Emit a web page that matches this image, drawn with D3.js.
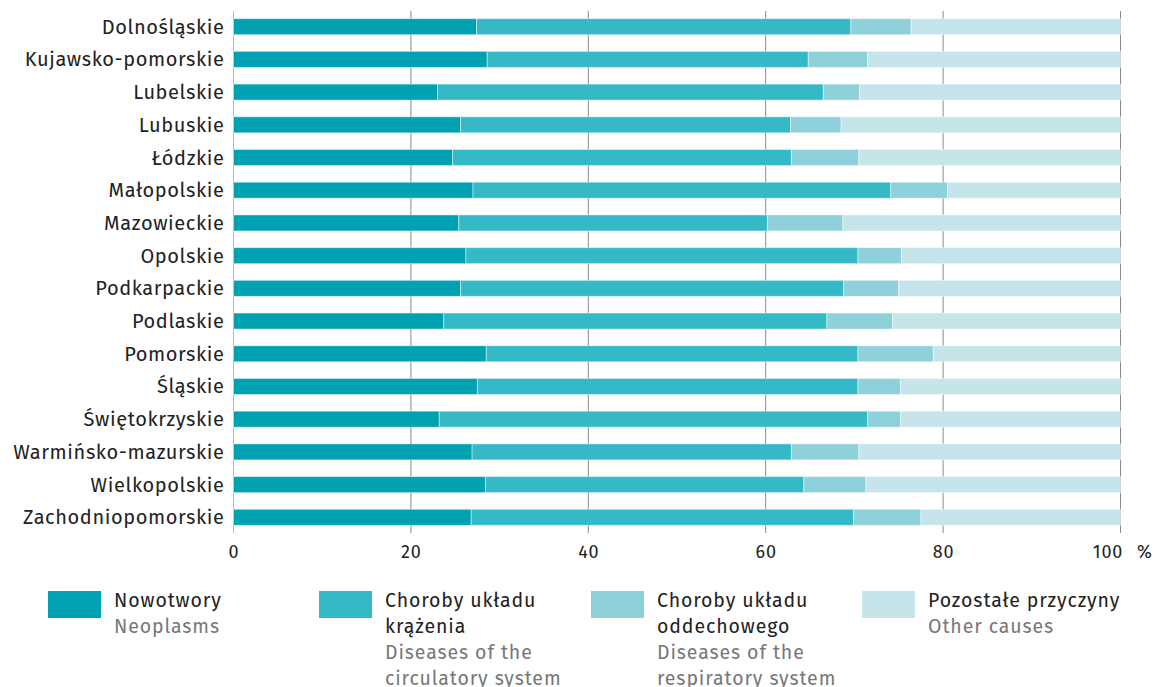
<!DOCTYPE html>
<html>
<head>
<meta charset="utf-8">
<script src="https://cdn.jsdelivr.net/npm/d3@7"></script>
<style>
  body { margin: 0; background: #fff; }
  svg text { font-family: "Fira Sans", "Noto Sans", sans-serif; }
</style>
</head>
<body>
<svg id="chart" width="1158" height="687"></svg>
<script>
// regions (voivodeships)
const regions = [
  'Dolnośląskie', 'Kujawsko-pomorskie', 'Lubelskie', 'Lubuskie', 'Łódzkie',
  'Małopolskie', 'Mazowieckie', 'Opolskie', 'Podkarpackie', 'Podlaskie',
  'Pomorskie', 'Śląskie', 'Świętokrzyskie', 'Warmińsko-mazurskie',
  'Wielkopolskie', 'Zachodniopomorskie'
];

// shares of deaths, %
const neoplasms   = [27.4, 28.6, 23.0, 25.6, 24.7, 27.0, 25.4, 26.2, 25.6, 23.7, 28.5, 27.5, 23.2, 26.9, 28.4, 26.8];
const circulatory = [42.2, 36.2, 43.5, 37.2, 38.2, 47.1, 34.8, 44.2, 43.2, 43.2, 41.9, 42.9, 48.3, 36.0, 35.9, 43.1];
const respiratory = [6.8, 6.7, 4.1, 5.7, 7.6, 6.4, 8.5, 4.9, 6.2, 7.4, 8.5, 4.8, 3.7, 7.6, 7.0, 7.6];
const other = regions.map((r, i) => +(100 - neoplasms[i] - circulatory[i] - respiratory[i]).toFixed(1));

const xTicks = [0, 20, 40, 60, 80, 100];

const series = [
  { key: 'neo', pl: ['Nowotwory'], en: ['Neoplasms'], color: '#00a1b1' },
  { key: 'circ', pl: ['Choroby układu', 'krążenia'], en: ['Diseases of the', 'circulatory system'], color: '#36b9c7' },
  { key: 'resp', pl: ['Choroby układu', 'oddechowego'], en: ['Diseases of the', 'respiratory system'], color: '#8fd1da' },
  { key: 'oth', pl: ['Pozostałe przyczyny'], en: ['Other causes'], color: '#c5e5ea' }
];

const rows = regions.map((r, i) => ({
  region: r, neo: neoplasms[i], circ: circulatory[i], resp: respiratory[i], oth: other[i]
}));

const svg = d3.select('#chart');

const x = d3.scaleLinear().domain([0, 100]).range([233.5, 1120.5]);
const y = d3.scaleBand().domain(regions).range([10.5, 533.5]).paddingInner(0.51).paddingOuter(0.25);

// grid
svg.append('g')
  .selectAll('line')
  .data(xTicks)
  .join('line')
  .attr('x1', d => x(d)).attr('x2', d => x(d))
  .attr('y1', 11).attr('y2', 533)
  .attr('stroke', d => d === 0 ? '#bbbbbb' : '#8a8a8a')
  .attr('stroke-width', 1);

// stacked bars
const stacked = d3.stack().keys(series.map(s => s.key))(rows);

svg.append('g')
  .selectAll('g')
  .data(stacked)
  .join('g')
  .attr('fill', (d, i) => series[i].color)
  .selectAll('rect')
  .data(d => d)
  .join('rect')
  .attr('x', d => x(d[0]))
  .attr('width', d => x(d[1]) - x(d[0]))
  .attr('y', d => y(d.data.region))
  .attr('height', y.bandwidth())
  .attr('stroke', 'rgba(255,255,255,0.45)')
  .attr('stroke-width', 1);

// category labels
svg.append('g')
  .selectAll('text')
  .data(regions)
  .join('text')
  .attr('x', 224.6)
  .attr('y', d => y(d) + y.bandwidth() / 2)
  .attr('dy', '0.35em')
  .attr('text-anchor', 'end')
  .attr('font-size', 20)
  .attr('letter-spacing', 0.6)
  .attr('fill', '#222')
  .text(d => d);

// x axis labels
const xAxis = d3.axisBottom(x).tickValues(xTicks).tickSize(0).tickPadding(0);
const gx = svg.append('g').attr('transform', 'translate(0,545)').call(xAxis);
gx.select('.domain').remove();
gx.selectAll('text')
  .attr('font-size', 18)
  .attr('letter-spacing', 0.8)
  .attr('fill', '#222')
  .attr('dy', '0.71em')
  .attr('dx', d => d === 100 ? -13 : 0)
  .style('font-family', '"Fira Sans", "Noto Sans", sans-serif');

svg.append('text')
  .attr('x', 1137).attr('y', 545)
  .attr('dy', '0.71em')
  .attr('font-size', 18)
  .attr('fill', '#222')
  .text('%');

// legend
const legendX = [48, 319, 591, 862];
const leg = svg.append('g')
  .selectAll('g')
  .data(series)
  .join('g')
  .attr('transform', (d, i) => `translate(${legendX[i]},591)`);

leg.append('rect')
  .attr('width', 53).attr('height', 27)
  .attr('fill', d => d.color);

leg.each(function (d) {
  const g = d3.select(this);
  const lines = d.pl.map(t => ({ t, c: '#222' })).concat(d.en.map(t => ({ t, c: '#777' })));
  g.selectAll('text')
    .data(lines)
    .join('text')
    .attr('x', 66)
    .attr('y', (l, j) => 9 + j * 26)
    .attr('dy', '0.35em')
    .attr('font-size', 19.5)
    .attr('letter-spacing', 0.9)
    .attr('fill', l => l.c)
    .text(l => l.t);
});
</script>
</body>
</html>
